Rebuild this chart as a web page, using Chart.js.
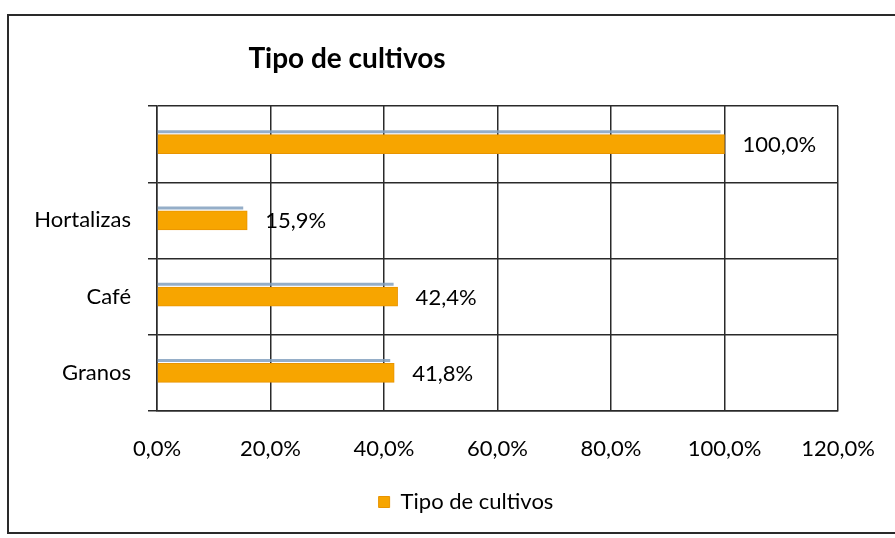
<!DOCTYPE html>
<html>
<head>
<meta charset="utf-8">
<script src="https://cdn.jsdelivr.net/npm/chart.js@4"></script>
<style>
  html, body { margin: 0; padding: 0; background: #fff; }
  #wrap { width: 895px; height: 538px; position: relative; }
</style>
</head>
<body>
<div id="wrap"><canvas id="chart"></canvas></div>
<script>
// data
const categories = ['', 'Hortalizas', 'Café', 'Granos'];
const values = [100.0, 15.9, 42.4, 41.8];
const seriesName = 'Tipo de cultivos';
const chartTitle = 'Tipo de cultivos';
const xTicks = [0, 20, 40, 60, 80, 100, 120];

const FONT = 'Lato, "Open Sans", sans-serif';
const pct = v => Number(v).toFixed(1).replace('.', ',') + '%';

// frame, title, bar shadow and value labels
const decor = {
  id: 'decor',
  afterLayout(chart) {
    // legend sits a bit right of the canvas centre in the original
    chart.legend.left += 47;
    chart.legend.right += 47;
  },
  beforeDraw(chart) {
    const c = chart.ctx;
    c.save();
    c.fillStyle = '#fff';
    c.fillRect(0, 0, chart.width, chart.height);
    c.strokeStyle = '#2a2a2a';
    c.lineWidth = 2;
    c.strokeRect(8, 15, chart.width + 10, 518);
    c.fillStyle = '#000';
    c.font = 'bold 28px ' + FONT;
    c.textAlign = 'center';
    c.textBaseline = 'middle';
    c.fillText(chartTitle, 347, 59);
    c.restore();
  },
  beforeDatasetsDraw(chart) {
    const c = chart.ctx;
    const meta = chart.getDatasetMeta(0);
    c.save();
    c.strokeStyle = 'rgba(130,160,190,0.85)';
    c.lineWidth = 3;
    meta.data.forEach(bar => {
      const y = bar.y - bar.height / 2 - 3;
      c.beginPath();
      c.moveTo(bar.base, y);
      c.lineTo(bar.x - 4, y);
      c.stroke();
    });
    c.restore();
  },
  afterDatasetsDraw(chart) {
    const c = chart.ctx;
    const meta = chart.getDatasetMeta(0);
    c.save();
    c.fillStyle = '#000';
    c.font = '22px ' + FONT;
    c.textAlign = 'left';
    c.textBaseline = 'middle';
    meta.data.forEach((bar, i) => {
      c.fillText(pct(values[i]), bar.x + 18, bar.y + 1);
    });
    c.restore();
  }
};

new Chart(document.getElementById('chart'), {
  type: 'bar',
  data: {
    labels: categories,
    datasets: [{
      label: seriesName,
      data: values,
      backgroundColor: '#F7A500',
      borderColor: '#E89400',
      borderWidth: 1,
      barThickness: 19
    }]
  },
  options: {
    indexAxis: 'y',
    responsive: true,
    maintainAspectRatio: false,
    animation: false,
    layout: { padding: { top: 106, left: 0, right: 57, bottom: 15 } },
    scales: {
      x: {
        min: 0,
        max: 120,
        afterBuildTicks: s => { s.ticks = xTicks.map(v => ({ value: v })); },
        afterFit: s => { s.height = 70; s.paddingRight = 0; s.paddingLeft = 0; },
        grid: { color: '#2a2a2a', lineWidth: 1.5, drawTicks: false },
        border: { color: '#2a2a2a', width: 1.5 },
        ticks: {
          padding: 25,
          color: '#000',
          font: { family: FONT, size: 22 },
          callback: v => pct(v)
        }
      },
      y: {
        afterFit: s => { s.width = 157; },
        grid: { color: '#2a2a2a', lineWidth: 1.5, tickLength: 9 },
        border: { color: '#2a2a2a', width: 1.5 },
        ticks: {
          padding: 17,
          color: '#000',
          font: { family: FONT, size: 22 }
        }
      }
    },
    plugins: {
      legend: {
        position: 'bottom',
        labels: {
          boxWidth: 11,
          boxHeight: 11,
          padding: 10,
          color: '#000',
          font: { family: FONT, size: 22 }
        }
      },
      tooltip: { enabled: false }
    }
  },
  plugins: [decor]
});
</script>
</body>
</html>
